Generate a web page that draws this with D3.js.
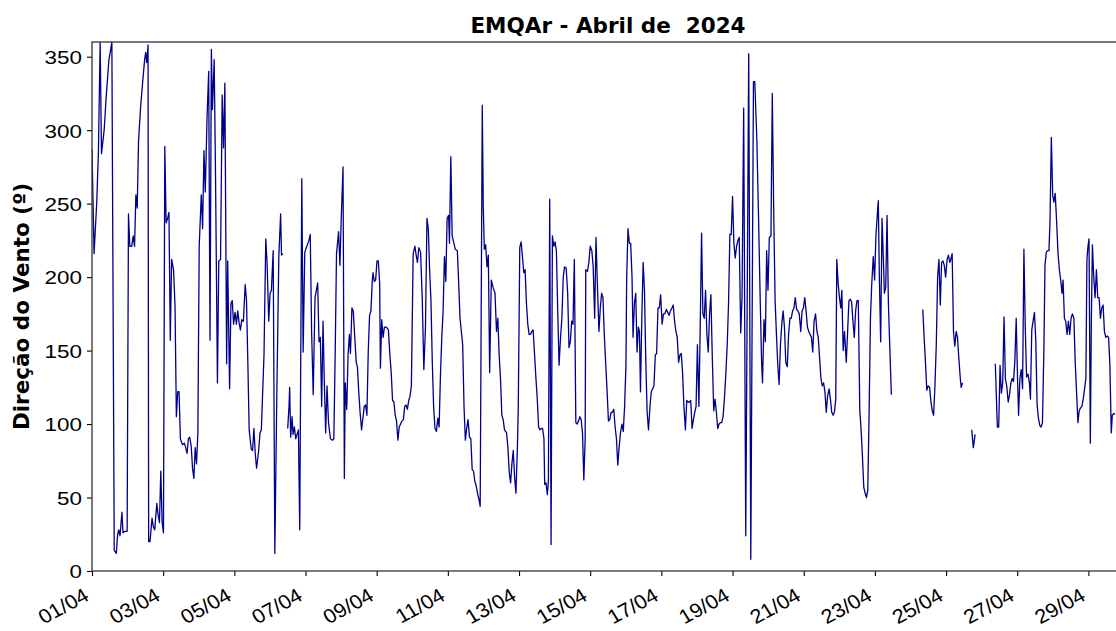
<!DOCTYPE html>
<html>
<head>
<meta charset="utf-8">
<script src="https://cdn.jsdelivr.net/npm/d3@7"></script>
<style>
  body { margin: 0; background: #fff; }
  svg { display: block; font-family: "DejaVu Sans", sans-serif; }
  .tick text { font-size: 19px; fill: #000; }
  .x-eixo .tick text { font-size: 20px; }
</style>
</head>
<body>
<svg id="chart" width="1116" height="631"></svg>
<script>
// direção do vento, [horas desde 01/04 00h, graus]; null = falha de dados
const dias01a03 = [[0,287],[1.4,216],[3.2,251],[4.3,284],[5.5,360],[6.4,284],[8.2,300],[9.6,323],[11.4,348],[12.3,353],[13.4,360],[15,14],[16.4,12],[17.3,25],[18,28],[18.9,24],[20.2,40],[20.9,26],[22.3,27],[23.7,27],[24.6,243],[25.5,221],[26.8,221],[27.8,228],[28.7,221],[29.6,256],[30.5,247],[31.4,293],[32.8,316],[34.1,332],[35.5,348],[36.2,353],[36.9,346],[37.8,358],[38.2,20],[39.1,20],[40.5,36],[41.4,30],[42.3,28],[43.7,46],[44.6,38],[45.5,33],[46.4,68],[47.3,33],[48.2,26]];
const dias03a05 = [[49.1,289],[50,237],[51,240],[51.9,244],[52.8,157],[53.7,212],[55,205],[56,180],[56.9,105],[57.8,122],[58.7,122],[59.6,90],[61,86],[62.3,87],[63.2,84],[64.1,80],[65,90],[65.9,91],[66.9,85],[67.8,70],[68.7,63],[69.6,84],[70.5,73],[71.4,94],[72.3,221],[73.7,256],[74.6,233],[75.5,286],[76.4,258],[77.6,309],[78.7,340],[79.6,157],[80.5,355],[81.2,314],[82.4,348],[83.3,270],[84.6,128],[85.5,211],[86.7,212],[87.8,324],[88.7,288],[89.6,332],[90.8,141],[91.5,211],[92.8,124],[93.7,182],[94.6,184],[95.5,168]];
const dias05a07 = [[96.5,176],[97.4,168],[98.3,177],[99.2,169],[100.1,164],[101,171],[102.1,170],[103.3,195],[104.2,184],[105.1,142],[106,96],[107.4,83],[108.3,82],[109.2,97],[110.1,80],[111,70],[112.4,82],[113.3,94],[114.2,96],[116,147],[117.2,226],[118.1,209],[119.2,170],[120.1,189],[121,191],[122.2,218],[123.3,12],[124.7,124],[126,214],[127.2,243],[127.8,215],[128.8,216],[130,null],[132,97],[132.9,113],[133.3,125],[134,91],[134.9,105],[135.6,93],[136.5,98],[137.4,90],[138.3,93],[139.2,96],[140.1,28],[141.5,267],[142.4,149],[143.5,217]];
const dias07a09 = [[144.9,221],[146.3,225],[147.2,229],[148.1,163],[149.2,120],[150.4,186],[151.3,191],[152.2,196],[153.1,156],[154,159],[154.9,112],[155.8,170],[156.7,128],[157.6,94],[158.5,126],[159.5,101],[160.8,90],[162.2,89],[163.1,90],[164,147],[164.9,216],[166.3,231],[167.2,208],[168.1,240],[169.3,275],[170.2,63],[170.8,128],[171.8,110],[172.7,147],[173.6,161],[174.3,148],[175.3,179],[176.2,177],[177.1,161],[178.2,142],[179,139],[179.9,122],[180.8,108],[181.8,96],[182.7,104],[183.6,112],[184.5,113],[185.4,106],[186.3,149],[187.2,174],[188.1,177],[189,197],[189.5,203],[190.4,197],[191.3,198]];
const dias09a11 = [[192.2,211],[193.1,211],[194,196],[194.5,138],[195.4,171],[196.3,159],[197.2,166],[198.6,166],[199.9,164],[200.9,147],[201.8,135],[202.7,116],[203.6,115],[204.5,106],[205.4,102],[206.3,89],[207.2,98],[208.1,100],[209,102],[210,103],[210.9,112],[211.8,113],[212.7,110],[213.6,116],[214.5,119],[215.4,126],[216.6,216],[217.8,221],[218.6,215],[219.5,210],[220.4,220],[221.6,217],[222.7,186],[223.8,137],[224.9,166],[225.9,240],[226.8,233],[227.7,205],[228.6,184],[229.5,142],[230.4,112],[231.3,97],[232.3,95],[233.2,104],[234.1,98],[235,133],[235.9,159],[236.8,177],[237.7,214],[238.6,197],[239.5,240]];
const dias11a13 = [[240.5,242],[241.1,223],[242,282],[242.9,228],[244.1,223],[245,219],[246.4,218],[247.3,196],[248.2,172],[249.1,163],[250,154],[250.9,112],[251.8,89],[252.7,97],[253.6,103],[254.6,91],[255.5,90],[256.4,69],[257.3,68],[258.2,61],[259.1,58],[260,53],[260.9,49],[261.8,44],[263.2,317],[263.9,247],[264.6,219],[265.5,222],[266.4,207],[267.3,215],[268.2,135],[269.3,198],[270.5,193],[271.8,189],[272.8,163],[273.7,172],[274.6,147],[275.5,131],[276.4,106],[277.3,103],[278.2,96],[279.6,94],[280.5,84],[281.4,67],[282.3,60],[283.2,73],[284.1,82],[285,64],[285.9,53],[286.9,84],[287.5,112]];
const dias13a15 = [[288.5,220],[289.4,224],[290.3,214],[291.2,203],[292.1,205],[293,182],[293.9,168],[294.8,161],[295.7,161],[296.6,163],[297.5,164],[298.5,147],[299.4,131],[300.3,117],[301.2,98],[302.1,96],[303,97],[303.9,97],[304.8,90],[305.3,59],[306.2,60],[307.1,52],[307.8,61],[308.7,253],[309.6,18],[310.5,228],[311.4,221],[312.3,224],[313.2,218],[314.1,177],[315,140],[316,159],[316.9,172],[317.8,200],[318.7,207],[319.8,206],[320.8,189],[321.7,152],[322.6,156],[323.5,170],[324.4,168],[325.3,212],[326.3,101],[327.2,100],[328.1,102],[329,105],[329.9,103],[330.8,94],[331.7,62],[332.6,90],[333,205],[334.2,204],[335.1,210]];
const dias15a17 = [[336,221],[337.1,218],[338,207],[339,172],[339.9,227],[340.8,196],[341.9,163],[342.8,179],[343.7,189],[344.6,186],[345.5,161],[346.4,142],[347.4,122],[348.3,102],[349.2,103],[350.1,108],[351,108],[351.9,110],[352.8,98],[353.7,90],[354.6,72],[355.5,84],[356.4,94],[357.4,100],[358.3,95],[359.2,112],[360.1,140],[360.6,200],[361.5,233],[362.4,223],[363.3,223],[364.2,200],[364.9,159],[365.8,182],[366.7,189],[367.6,149],[368.5,166],[369.2,163],[369.9,122],[370.8,172],[371.7,210],[372.6,191],[373.5,142],[374.4,108],[375.3,96],[376.3,112],[377.2,122],[378.1,124],[379,126],[379.9,147],[380.8,148],[381.7,179],[382.6,179],[383.5,188]];
const dias17a19 = [[384.5,168],[385.4,175],[386.3,175],[387.4,178],[388.3,176],[389.2,174],[390.1,177],[391.1,179],[392,181],[392.9,170],[393.8,163],[394.7,159],[395.6,142],[396.5,147],[397.4,148],[398.3,135],[399.2,112],[400.2,96],[401.1,116],[402,115],[402.9,115],[403.8,116],[404.7,97],[405.6,103],[406.5,108],[407.4,112],[408.3,154],[409.3,112],[410.2,166],[411.1,230],[412,175],[412.9,172],[413.8,191],[414.7,161],[415.6,149],[416.5,175],[417.4,188],[418.3,147],[419.3,109],[420.2,117],[421.1,108],[422,97],[422.9,100],[423.8,101],[424.7,101],[425.6,105],[426.5,117],[427.4,133],[428.4,154],[429.3,182],[430.2,229],[431.1,229]];
const dias19a21 = [[432,255],[432.9,223],[433.8,213],[434.7,221],[435.6,225],[436.5,227],[437.5,162],[438.4,186],[439.5,315],[440.9,24],[442.9,352],[444.3,8],[446.1,333],[447,333],[448.4,293],[449.5,242],[450.7,182],[451.6,142],[452.2,128],[453.2,171],[454.1,156],[455,218],[455.9,191],[456.8,227],[457.9,228],[458.8,325],[459.8,242],[460.7,184],[461.6,161],[462.5,140],[463.4,127],[464.3,154],[465.2,168],[466.1,177],[467,166],[467.9,142],[468.9,139],[469.8,161],[470.7,172],[471.6,172],[472.5,177],[473.4,179],[474.3,186],[475.2,178],[476.1,177],[477,175],[478,163],[478.9,177],[479.8,179]];
const dias21a23 = [[480.7,186],[481.6,177],[482.5,166],[483.4,163],[484.3,161],[485.2,159],[486.1,149],[487,170],[488,175],[488.9,163],[489.8,159],[490.7,145],[491.6,131],[492.5,126],[493.4,128],[494.3,122],[495.2,108],[496.1,119],[497.1,124],[498,117],[498.9,108],[499.8,106],[500.7,108],[501.6,117],[502.3,212],[503.2,196],[504.1,186],[505,179],[505.7,191],[506.6,150],[507.5,163],[508.7,142],[509.6,163],[510.5,184],[511.4,185],[512.3,183],[513.2,170],[514.1,159],[515,177],[515.9,184],[516.8,184],[517.8,110],[518.7,96],[519.6,78],[520.5,57],[521.4,53],[522.3,50],[523.2,55],[524.1,108],[525,172],[525.9,196],[526.9,214],[527.8,198]];
const dias23a25 = [[528.7,228],[529.6,242],[530.3,252],[531,200],[531.9,156],[532.8,240],[533.5,219],[534.4,189],[535.3,193],[536.2,242],[537.1,182],[538,154],[539.1,120],[540,null],[560.3,178],[561.2,159],[562.1,142],[563,123],[563.9,126],[564.9,125],[565.8,115],[566.7,109],[567.6,106],[568.5,126],[569.4,154],[570.3,200],[571.2,212],[572.1,181],[573,210],[573.9,211],[574.8,208],[575.7,200]];
const dias25a27 = [[576.7,212],[577.6,215],[578.5,210],[579.2,212],[580.1,216],[581,163],[581.9,153],[582.8,163],[583.7,159],[584.6,145],[585.6,131],[586.2,125],[587.1,128],[588,null],[593.3,96],[594.4,84],[595.6,93],[596.5,null],[609.2,141],[610.6,98],[611.5,98],[612.4,140],[613.3,121],[614.2,128],[615.1,173],[616,131],[616.9,126],[617.9,115],[618.8,120],[619.7,128],[620.6,131],[621.5,129],[622.4,143],[623.3,172]];
const dias27a29 = [[624.2,131],[624.9,106],[625.8,131],[626.7,137],[627.6,124],[628.5,219],[629.4,166],[630.3,132],[631.3,134],[632.2,128],[632.9,117],[633.8,164],[634.7,170],[635.6,176],[636.5,157],[637.4,113],[638.3,104],[639.2,99],[640.1,98],[641,101],[642,152],[642.7,208],[643.6,217],[644.5,218],[645.4,218],[646.1,238],[647,295],[647.9,256],[648.7,251],[649.6,257],[650.6,237],[651.5,216],[652.4,205],[653.3,198],[654.2,189],[654.9,198],[655.8,172],[656.7,170],[657.6,161],[658.5,170],[659.4,161],[660.3,172],[661.2,175],[662.2,172],[663.1,142],[664,122],[664.9,101],[665.8,109],[666.7,111],[667.6,112],[668.5,117],[669.4,124],[670.3,131],[671,212],[671.7,221]];
const dias29a30 = [[672.4,226],[673.3,87],[674,172],[674.7,222],[675.6,200],[676.5,186],[677.4,205],[678.3,186],[679.2,186],[680.1,172],[681,179],[681.9,181],[682.8,163],[683.7,159],[684.7,160],[685.6,159],[686.5,140],[687.4,94],[688.1,106],[689,107],[690,107]];

const yTicks = [0, 50, 100, 150, 200, 250, 300, 350];
const titulo = "EMQAr - Abril de  2024";
const rotuloY = "Direção do Vento (º)";

const inicio = new Date(2024, 3, 1, 0, 0);
const hora = h => new Date(inicio.getTime() + h * 3600e3);

const serie = [].concat(dias01a03, dias03a05, dias05a07, dias07a09, dias09a11, dias11a13,
  dias13a15, dias15a17, dias17a19, dias19a21, dias21a23, dias23a25, dias25a27, dias27a29, dias29a30)
  .map(d => ({ t: hora(d[0]), v: d[1] }));

const plotL = 92, plotR = 1124, plotT = 42, plotB = 571;
const esticarY = 1.18, esticarX = 1.08; // a figura original está um pouco esticada na horizontal

const svg = d3.select("#chart");

const x = d3.scaleTime()
  .domain([inicio, hora(696)])
  .range([plotL, plotR]);

const y = d3.scaleLinear()
  .domain([0, 360])
  .range([plotB, plotT]);

svg.append("defs").append("clipPath").attr("id", "clip")
  .append("rect")
  .attr("x", plotL).attr("y", plotT)
  .attr("width", plotR - plotL).attr("height", plotB - plotT);

const line = d3.line()
  .defined(d => d.v != null)
  .x(d => x(d.t))
  .y(d => y(d.v));

svg.append("path")
  .datum(serie)
  .attr("clip-path", "url(#clip)")
  .attr("fill", "none")
  .attr("stroke", "#00008b")
  .attr("stroke-width", 1.3)
  .attr("stroke-linejoin", "round")
  .attr("d", line);

// eixo x
const gx = svg.append("g")
  .attr("class", "x-eixo")
  .attr("transform", "translate(0," + plotB + ")")
  .call(d3.axisBottom(x)
    .ticks(d3.timeDay.every(2))
    .tickFormat(d3.timeFormat("%d/%m"))
    .tickSize(5)
    .tickSizeOuter(0));
gx.select(".domain").remove();
gx.selectAll(".tick line").attr("stroke", "#000").attr("stroke-width", 1.1);
gx.selectAll(".tick text")
  .attr("text-anchor", "end")
  .attr("transform", "translate(-2,28.5) scale(" + esticarX + ",1) rotate(-30)")
  .attr("y", 0).attr("dy", 0);

// eixo y
const gy = svg.append("g")
  .attr("transform", "translate(" + plotL + ",0)")
  .call(d3.axisLeft(y).tickValues(yTicks).tickSize(5).tickSizeOuter(0));
gy.select(".domain").remove();
gy.selectAll(".tick line").attr("stroke", "#000").attr("stroke-width", 1.1);
gy.selectAll(".tick text")
  .attr("x", 0)
  .attr("transform", "translate(-10,0) scale(" + esticarY + ",1)")
  .attr("dy", "0.36em");

// moldura
svg.append("rect")
  .attr("x", plotL).attr("y", plotT)
  .attr("width", plotR - plotL).attr("height", plotB - plotT)
  .attr("fill", "none")
  .attr("stroke", "#333")
  .attr("stroke-width", 1.3);

svg.append("text")
  .attr("x", 608).attr("y", 33)
  .attr("text-anchor", "middle")
  .attr("font-size", 21.5)
  .attr("font-weight", "bold")
  .style("white-space", "pre")
  .text(titulo);

svg.append("text")
  .attr("transform", "translate(29," + ((plotT + plotB) / 2) + ") rotate(-90)")
  .attr("text-anchor", "middle")
  .attr("font-size", 21.5)
  .attr("font-weight", "bold")
  .text(rotuloY);
</script>
</body>
</html>
